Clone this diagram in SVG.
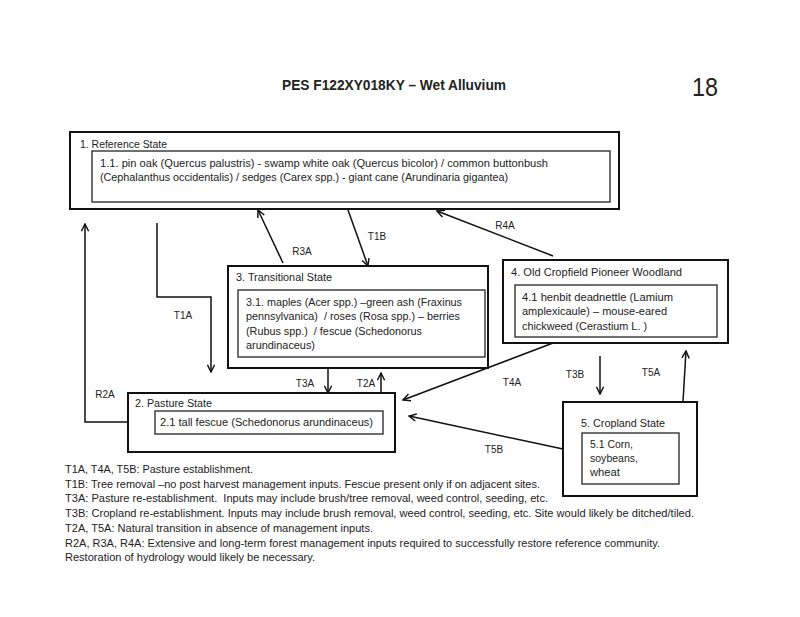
<svg xmlns="http://www.w3.org/2000/svg" width="800" height="617" viewBox="0 0 800 617">
<style>
text{font-family:"Liberation Sans",Arial,sans-serif;fill:#222;font-size:10px;white-space:pre}
.outer{fill:none;stroke:#111;stroke-width:2}
.inner{fill:none;stroke:#333;stroke-width:1.4}
.conn{fill:none;stroke:#111;stroke-width:1.5}
.lbl{text-anchor:middle;font-size:10px}
.ttl{font-weight:bold;font-size:14px}
</style>
<defs>
<marker id="ah" viewBox="0 0 10 10" refX="9" refY="5" markerWidth="9" markerHeight="9" markerUnits="userSpaceOnUse" orient="auto">
<path d="M1,1 L9,5 L1,9" fill="none" stroke="#111" stroke-width="1.6"/>
</marker>
</defs>
<rect width="800" height="617" fill="#fff"/>
<text class="ttl" x="282" y="90" textLength="224" lengthAdjust="spacingAndGlyphs">PES F122XY018KY – Wet Alluvium</text>
<text x="692" y="96" style="font-size:25px" textLength="26" lengthAdjust="spacingAndGlyphs">18</text>

<g id="connectors">
<path class="conn" d="M157,223 V297 H211 V372" marker-end="url(#ah)"/>
<path class="conn" d="M128,422 H85 V224" marker-end="url(#ah)"/>
<path class="conn" d="M283,263 L258,210" marker-end="url(#ah)"/>
<path class="conn" d="M348,210 L368,266" marker-end="url(#ah)"/>
<path class="conn" d="M553,256 L437,211" marker-end="url(#ah)"/>
<path class="conn" d="M328,368 V393" marker-end="url(#ah)"/>
<path class="conn" d="M381,393 V373" marker-end="url(#ah)"/>
<path class="conn" d="M553,343 L403,400" marker-end="url(#ah)"/>
<path class="conn" d="M563,449 L409,416" marker-end="url(#ah)"/>
<path class="conn" d="M600,356 V394" marker-end="url(#ah)"/>
<path class="conn" d="M683,401 L686,351" marker-end="url(#ah)"/>
<text class="lbl" x="183" y="319">T1A</text>
<text class="lbl" x="105" y="398">R2A</text>
<text class="lbl" x="302" y="255">R3A</text>
<text class="lbl" x="377" y="240">T1B</text>
<text class="lbl" x="505" y="229">R4A</text>
<text class="lbl" x="305" y="387">T3A</text>
<text class="lbl" x="366" y="387">T2A</text>
<text class="lbl" x="512" y="386">T4A</text>
<text class="lbl" x="575" y="378">T3B</text>
<text class="lbl" x="651" y="376">T5A</text>
<text class="lbl" x="494" y="453">T5B</text>
</g>

<g id="state1">
<rect class="outer" x="70" y="132" width="549" height="77"/>
<text x="80" y="148" textLength="87" lengthAdjust="spacingAndGlyphs">1. Reference State</text>
<rect class="inner" x="92" y="151" width="518" height="51"/>
<text x="100" y="167" textLength="448" lengthAdjust="spacingAndGlyphs">1.1. pin oak (Quercus palustris) - swamp white oak (Quercus bicolor) / common buttonbush</text>
<text x="100" y="181" textLength="408" lengthAdjust="spacingAndGlyphs">(Cephalanthus occidentalis) / sedges (Carex spp.) - giant cane (Arundinaria gigantea)</text>
</g>

<g id="state3">
<rect class="outer" x="228" y="266" width="260" height="102"/>
<text x="236" y="281" textLength="96" lengthAdjust="spacingAndGlyphs">3. Transitional State</text>
<rect class="inner" x="238" y="290" width="247" height="67"/>
<text x="246" y="306" textLength="216" lengthAdjust="spacingAndGlyphs">3.1. maples (Acer spp.) –green ash (Fraxinus</text>
<text x="246" y="320" textLength="214" lengthAdjust="spacingAndGlyphs">pennsylvanica)  / roses (Rosa spp.) – berries</text>
<text x="246" y="335" textLength="176" lengthAdjust="spacingAndGlyphs">(Rubus spp.)  / fescue (Schedonorus</text>
<text x="246" y="349" textLength="69" lengthAdjust="spacingAndGlyphs">arundinaceus)</text>
</g>

<g id="state4">
<rect class="outer" x="503" y="260" width="225" height="83"/>
<text x="511" y="276" textLength="171" lengthAdjust="spacingAndGlyphs">4. Old Cropfield Pioneer Woodland</text>
<rect class="inner" x="515" y="285" width="202" height="52"/>
<text x="522" y="301" textLength="151" lengthAdjust="spacingAndGlyphs">4.1 henbit deadnettle (Lamium</text>
<text x="522" y="315" textLength="145" lengthAdjust="spacingAndGlyphs">amplexicaule) – mouse-eared</text>
<text x="522" y="330" textLength="125" lengthAdjust="spacingAndGlyphs">chickweed (Cerastium L. )</text>
</g>

<g id="state2">
<rect class="outer" x="128" y="393" width="267" height="59"/>
<text x="135" y="407" textLength="77" lengthAdjust="spacingAndGlyphs">2. Pasture State</text>
<rect class="inner" x="155" y="411" width="228" height="23"/>
<text x="160" y="426" textLength="213" lengthAdjust="spacingAndGlyphs">2.1 tall fescue (Schedonorus arundinaceus)</text>
</g>

<g id="state5">
<rect class="outer" x="563" y="402" width="134" height="94"/>
<text x="581" y="427" textLength="84" lengthAdjust="spacingAndGlyphs">5. Cropland State</text>
<rect class="inner" x="582" y="433" width="97" height="51"/>
<text x="590" y="448" textLength="43" lengthAdjust="spacingAndGlyphs">5.1 Corn,</text>
<text x="590" y="462" textLength="48" lengthAdjust="spacingAndGlyphs">soybeans,</text>
<text x="590" y="476" textLength="30" lengthAdjust="spacingAndGlyphs">wheat</text>
</g>

<g id="legend">
<text x="65" y="473" textLength="188" lengthAdjust="spacingAndGlyphs">T1A, T4A, T5B: Pasture establishment.</text>
<text x="65" y="488" textLength="475" lengthAdjust="spacingAndGlyphs">T1B: Tree removal –no post harvest management inputs. Fescue present only if on adjacent sites.</text>
<text x="65" y="502" textLength="483" lengthAdjust="spacingAndGlyphs">T3A: Pasture re-establishment.  Inputs may include brush/tree removal, weed control, seeding, etc.</text>
<text x="65" y="517" textLength="629" lengthAdjust="spacingAndGlyphs">T3B: Cropland re-establishment. Inputs may include brush removal, weed control, seeding, etc. Site would likely be ditched/tiled.</text>
<text x="65" y="532" textLength="308" lengthAdjust="spacingAndGlyphs">T2A, T5A: Natural transition in absence of management inputs.</text>
<text x="65" y="547" textLength="595" lengthAdjust="spacingAndGlyphs">R2A, R3A, R4A: Extensive and long-term forest management inputs required to successfully restore reference community.</text>
<text x="65" y="561" textLength="250" lengthAdjust="spacingAndGlyphs">Restoration of hydrology would likely be necessary.</text>
</g>
</svg>
